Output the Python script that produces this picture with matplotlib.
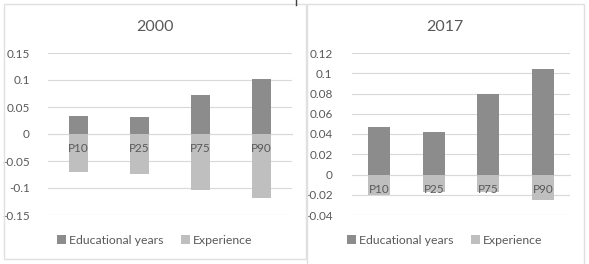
import matplotlib.pyplot as plt
from matplotlib.patches import Rectangle
from matplotlib.lines import Line2D

categories = ['P10', 'P25', 'P75', 'P90']
edu_2000 = [0.034, 0.031, 0.073, 0.101]
exp_2000 = [-0.071, -0.0735, -0.103, -0.1185]
edu_2017 = [0.0474, 0.042, 0.0797, 0.1044]
exp_2017 = [-0.0198, -0.017, -0.0175, -0.025]

W, H = 589, 264
DARK = '#8c8c8c'
LIGHT = '#bfbfbf'
GRID = '#d9d9d9'
TXT = '#595959'

plt.rcParams['font.family'] = ['Lato', 'DejaVu Sans']

fig = plt.figure(figsize=(W / 100, H / 100), dpi=100)


def px(x0, y0, x1, y1):
    # pixel box (top-left origin) -> figure fraction rect
    return [x0 / W, 1 - y1 / H, (x1 - x0) / W, (y1 - y0) / H]


def panel(box, edu, exp, ylim, step, width, title, pad, cx):
    ax = fig.add_axes(px(*box))
    x = range(len(categories))
    ax.bar(x, edu, width, color=DARK, label='Educational years', zorder=3)
    ax.bar(x, exp, width, color=LIGHT, label='Experience', zorder=3)
    ax.set_xlim(-0.5, len(categories) - 0.5)
    ax.set_ylim(*ylim)
    ticks = []
    v = ylim[0]
    while v <= ylim[1] + 1e-9:
        ticks.append(round(v, 4))
        v += step
    ax.set_yticks(ticks)
    ax.set_yticklabels(['0' if t == 0 else ('%g' % t) for t in ticks])
    ax.yaxis.grid(True, color=GRID, lw=0.8, zorder=0)
    for s in ['top', 'right', 'left']:
        ax.spines[s].set_visible(False)
    ax.spines['bottom'].set_position(('data', 0))
    ax.spines['bottom'].set_color(GRID)
    ax.spines['bottom'].set_linewidth(0.8)
    ax.spines['bottom'].set_zorder(2)
    ax.set_xticks(list(x))
    ax.set_xticklabels(categories)
    ax.xaxis.set_zorder(5)
    ax.tick_params(axis='x', length=0, pad=6.5, labelsize=8.5, labelcolor=TXT)
    ax.tick_params(axis='y', length=0, pad=pad, labelsize=8.5, labelcolor=TXT)
    for lab in ax.get_yticklabels():
        lab.set_horizontalalignment('right')
    fig.text(cx / W, 1 - 27 / H, title, ha='center', va='center',
             fontsize=11.5, color=TXT)
    h, l = ax.get_legend_handles_labels()
    fig.legend(h, l, loc='center', bbox_to_anchor=(cx / W, 1 - 240 / H),
               ncol=2, frameon=False, fontsize=8.8, labelcolor=TXT,
               handlelength=0.7, handleheight=0.7, handletextpad=0.3,
               columnspacing=1.4, borderaxespad=0)
    return ax


panel((48, 53, 292, 215), edu_2000, exp_2000, (-0.15, 0.15), 0.05, 0.31,
      '2000', 13, 155)
panel((352, 53, 570, 215), edu_2017, exp_2017, (-0.04, 0.12), 0.02, 0.40,
      '2017', 14, 445)

# chart borders
for x0, y0, x1, y1 in [(4, 4, 306, 259), (307, 4, 584, 268)]:
    fig.add_artist(Rectangle((x0 / W, 1 - y1 / H), (x1 - x0) / W, (y1 - y0) / H,
                             transform=fig.transFigure, fill=False,
                             edgecolor='#e0e0e0', lw=1))
fig.add_artist(Line2D([296 / W, 296 / W], [1, 1 - 5 / H],
                      transform=fig.transFigure, color='#404040', lw=1))

fig.savefig('out.png', dpi=100, facecolor='white')
